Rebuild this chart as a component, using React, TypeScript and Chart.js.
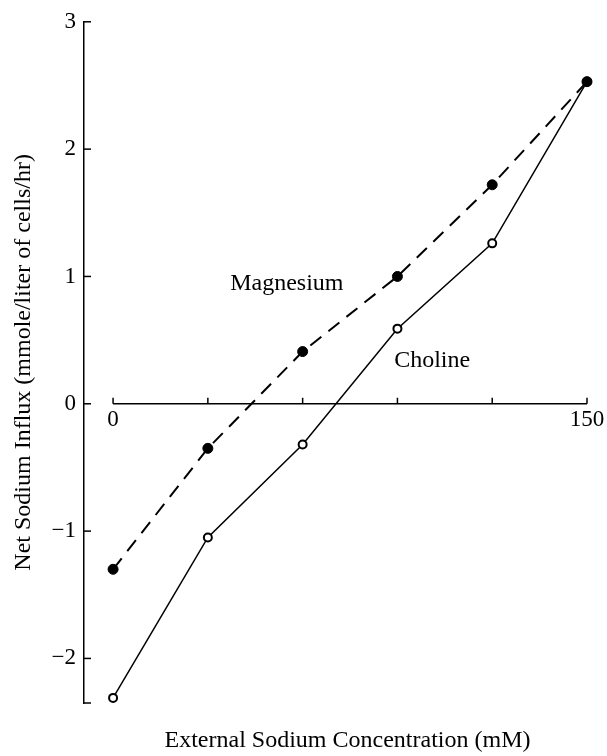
import React, { useEffect, useRef } from "react";
import { Chart, registerables } from "chart.js";

Chart.register(...registerables);

// Data
const CONCENTRATION = [0, 30, 60, 90, 120, 150];
const MAGNESIUM = [-1.3, -0.35, 0.41, 1.0, 1.72, 2.53];
const CHOLINE = [-2.31, -1.05, -0.32, 0.59, 1.26, 2.53];

const Y_TICKS = [-2, -1, 0, 1, 2, 3];
const X_TICKS = [0, 30, 60, 90, 120, 150];
const X_TICK_LABELS = ["0", "", "", "", "", "150"];

const SERIES_NAMES = ["Magnesium", "Choline"];
// text anchors (data units) for the series names
const SERIES_LABEL_X = [55, 101];
const SERIES_LABEL_Y = [0.94, 0.34];

const X_TITLE = "External Sodium Concentration (mM)";
const Y_TITLE = "Net Sodium Influx (mmole/liter of cells/hr)";

const FONT = "'Liberation Serif', 'Times New Roman', serif";

const axesPlugin = {
  id: "customAxes",
  afterDraw(chart: any) {
    const { ctx } = chart;
    const xs = chart.scales.x;
    const ys = chart.scales.y;
    ctx.save();
    ctx.strokeStyle = "#000";
    ctx.fillStyle = "#000";
    ctx.lineWidth = 1.5;

    // inward ticks on the y axis
    const ax = ys.right;
    for (const v of Y_TICKS) {
      const py = ys.getPixelForValue(v);
      ctx.beginPath();
      ctx.moveTo(ax, py);
      ctx.lineTo(ax + 7, py);
      ctx.stroke();
    }
    ctx.beginPath();
    ctx.moveTo(ax, ys.bottom);
    ctx.lineTo(ax + 7, ys.bottom);
    ctx.stroke();

    // x axis at y = 0
    const y0 = ys.getPixelForValue(0);
    const xa = xs.getPixelForValue(X_TICKS[0]);
    const xb = xs.getPixelForValue(X_TICKS[X_TICKS.length - 1]);
    ctx.beginPath();
    ctx.moveTo(xa, y0);
    ctx.lineTo(xb, y0);
    ctx.stroke();
    ctx.font = `23px ${FONT}`;
    ctx.textAlign = "center";
    ctx.textBaseline = "top";
    X_TICKS.forEach((v, i) => {
      const px = xs.getPixelForValue(v);
      ctx.beginPath();
      ctx.moveTo(px, y0);
      ctx.lineTo(px, y0 - 6);
      ctx.stroke();
      if (X_TICK_LABELS[i]) ctx.fillText(X_TICK_LABELS[i], px, y0 + 5);
    });

    // series names
    ctx.font = `24px ${FONT}`;
    ctx.textBaseline = "middle";
    SERIES_NAMES.forEach((name, i) => {
      ctx.fillText(
        name,
        xs.getPixelForValue(SERIES_LABEL_X[i]),
        ys.getPixelForValue(SERIES_LABEL_Y[i])
      );
    });

    // axis titles
    ctx.textBaseline = "alphabetic";
    ctx.fillText(X_TITLE, (xs.left + xs.right) / 2 + 12, chart.height - 9);
    ctx.save();
    ctx.translate(30, (ys.top + ys.bottom) / 2 + 0);
    ctx.rotate(-Math.PI / 2);
    ctx.fillText(Y_TITLE, 0, 0);
    ctx.restore();

    ctx.restore();
  },
};

export default function App() {
  const canvasRef = useRef<HTMLCanvasElement>(null);

  useEffect(() => {
    if (!canvasRef.current) return;
    const chart = new Chart(canvasRef.current, {
      type: "line",
      data: {
        datasets: [
          {
            label: SERIES_NAMES[0],
            data: CONCENTRATION.map((x, i) => ({ x, y: MAGNESIUM[i] })),
            borderColor: "#000",
            borderWidth: 2,
            borderDash: [14, 9],
            pointRadius: 5,
            pointBackgroundColor: "#000",
            pointBorderColor: "#000",
            pointBorderWidth: 1,
            tension: 0,
            clip: false as any,
          },
          {
            label: SERIES_NAMES[1],
            data: CONCENTRATION.map((x, i) => ({ x, y: CHOLINE[i] })),
            borderColor: "#000",
            borderWidth: 1.5,
            pointRadius: 4,
            pointBackgroundColor: "#fff",
            pointBorderColor: "#000",
            pointBorderWidth: 2,
            tension: 0,
            clip: false as any,
          },
        ],
      },
      options: {
        animation: false,
        responsive: false,
        devicePixelRatio: 1,
        layout: { padding: { left: 0, right: 20, top: 18, bottom: 53 } },
        plugins: {
          legend: { display: false },
          tooltip: { enabled: false },
        },
        scales: {
          x: {
            type: "linear",
            min: -9.2,
            max: 150,
            display: false,
          },
          y: {
            type: "linear",
            min: -2.35,
            max: 3,
            position: "left",
            afterFit: (s: any) => {
              s.width = 84;
            },
            afterBuildTicks: (s: any) => {
              s.ticks = Y_TICKS.map((v) => ({ value: v }));
            },
            border: { display: true, color: "#000", width: 1.5 },
            grid: { display: true, drawOnChartArea: false, drawTicks: false },
            ticks: {
              color: "#000",
              padding: 8,
              font: { family: FONT, size: 23 },
              callback: (v: any) => (Number(v) < 0 ? "\u2212" + Math.abs(Number(v)) : String(v)),
            },
          },
        },
      },
      plugins: [axesPlugin],
    });
    return () => chart.destroy();
  }, []);

  return (
    <div style={{ position: "fixed", left: 0, top: 0, width: 607, height: 756, background: "#fff" }}>
      <canvas ref={canvasRef} width={607} height={756} style={{ display: "block" }} />
    </div>
  );
}
